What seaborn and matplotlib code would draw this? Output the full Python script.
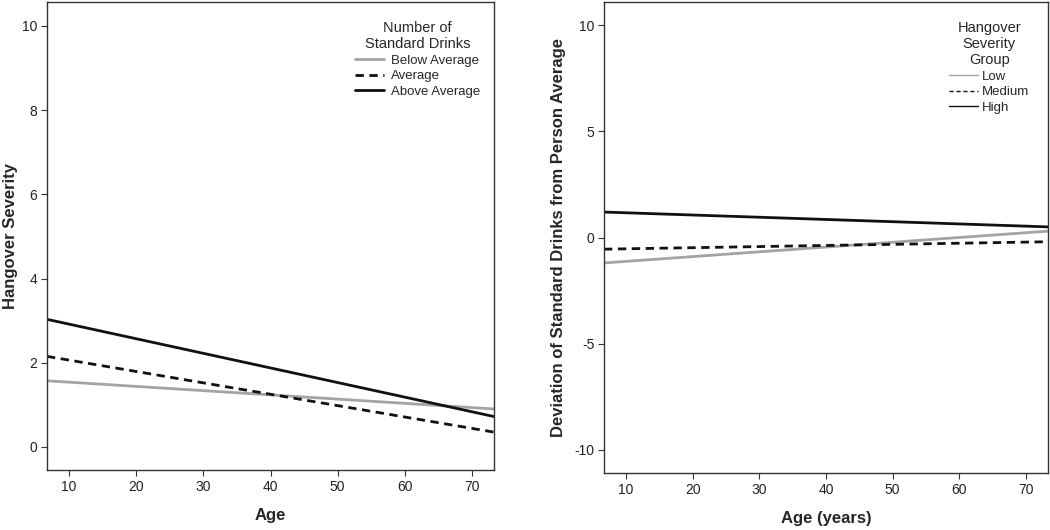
import matplotlib
matplotlib.use("Agg")
import matplotlib.pyplot as plt
import seaborn as sns
import pandas as pd

# Data (endpoints of fitted lines)
age = [6.7, 73.3]
drinks_groups = ["Below Average", "Average", "Above Average"]
below_avg = [1.57, 0.90]
average = [2.15, 0.35]
above_avg = [3.03, 0.72]

sev_groups = ["Low", "Medium", "High"]
low = [-1.20, 0.30]
medium = [-0.55, -0.20]
high = [1.20, 0.50]

left_xticks = [10, 20, 30, 40, 50, 60, 70]
left_yticks = [0, 2, 4, 6, 8, 10]
right_yticks = [-10, -5, 0, 5, 10]

sns.set_theme(style="white")
plt.rcParams['font.family'] = ['Liberation Sans', 'DejaVu Sans']
plt.rcParams['axes.unicode_minus'] = False

df1 = pd.DataFrame({
    "Age": age * 3,
    "y": below_avg + average + above_avg,
    "group": [g for g in drinks_groups for _ in age],
})
df2 = pd.DataFrame({
    "Age": age * 3,
    "y": low + medium + high,
    "group": [g for g in sev_groups for _ in age],
})

colors1 = {"Below Average": "#a3a3a3", "Average": "#111111", "Above Average": "#111111"}
dashes1 = {"Below Average": "", "Average": (3, 2), "Above Average": ""}
colors2 = {"Low": "#a3a3a3", "Medium": "#111111", "High": "#111111"}
dashes2 = {"Low": "", "Medium": (3, 2), "High": ""}

fig = plt.figure(figsize=(10.5, 5.3), dpi=100)
ax1 = fig.add_axes([47/1050, 1 - 470/530, (494-47)/1050, (470-2)/530])
ax2 = fig.add_axes([604/1050, 1 - 473/530, (1048-604)/1050, (473-2)/530])

sns.lineplot(data=df1, x="Age", y="y", hue="group", style="group",
             palette=colors1, dashes=dashes1, hue_order=drinks_groups,
             style_order=drinks_groups, linewidth=2.0, ax=ax1)
sns.lineplot(data=df2, x="Age", y="y", hue="group", style="group",
             palette=colors2, dashes=dashes2, hue_order=sev_groups,
             style_order=sev_groups, linewidth=2.0, ax=ax2)

for ax in (ax1, ax2):
    ax.set_xlim(6.7, 73.3)
    ax.set_xticks(left_xticks)
    for s in ax.spines.values():
        s.set_color("#333333")
        s.set_linewidth(1.0)
    ax.tick_params(axis="both", which="both", direction="out", length=4,
                   width=0.8, color="#333333", labelsize=10, labelcolor="#222222",
                   left=True, bottom=True, pad=3)

ax1.set_ylim(-0.55, 10.57)
ax1.set_yticks(left_yticks)
ax2.set_ylim(-11.1, 11.1)
ax2.set_yticks(right_yticks)

ax1.set_xlabel("Age", fontsize=12, fontweight="bold", labelpad=10)
ax1.set_ylabel("Hangover Severity", fontsize=12, fontweight="bold", labelpad=3)
ax2.set_xlabel("Age (years)", fontsize=12, fontweight="bold", labelpad=10)
ax2.set_ylabel("Deviation of Standard Drinks from Person Average", fontsize=12,
               fontweight="bold", labelpad=6)

leg1 = ax1.legend(title="Number of\nStandard Drinks", loc="upper right",
                  frameon=False, fontsize=9.5, title_fontsize=10.5,
                  handlelength=2.2, handletextpad=0.5, labelspacing=0.25,
                  bbox_to_anchor=(0.995, 0.985))
leg1.set_alignment("center")
leg1.get_title().set_multialignment("center")
for h in leg1.get_lines():
    h.set_linewidth(2.0)

leg2 = ax2.legend(title="Hangover\nSeverity\nGroup", loc="upper right",
                  frameon=False, fontsize=9.5, title_fontsize=10.5,
                  handlelength=2.2, handletextpad=0.3, labelspacing=0.25,
                  bbox_to_anchor=(0.985, 0.985))
leg2.set_alignment("center")
leg2.get_title().set_multialignment("center")
for h in leg2.get_lines():
    h.set_linewidth(1.0)

fig.savefig("out.png", dpi=100)
